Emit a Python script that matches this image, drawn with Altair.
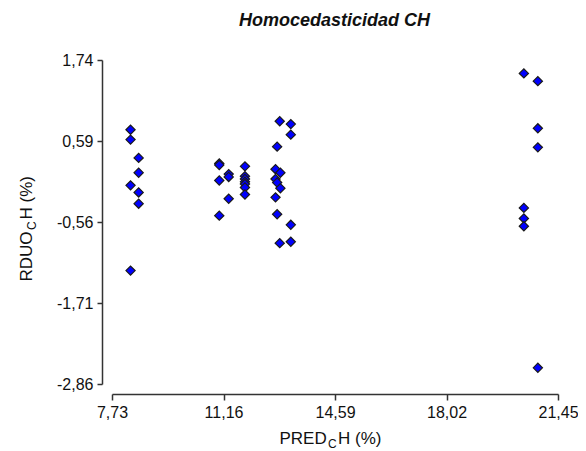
import altair as alt
import pandas as pd

x_pred = [8.30, 8.30, 8.55, 8.55, 8.30, 8.55, 8.55, 8.30,
          11.03, 11.03, 11.32, 11.32, 11.03, 11.32, 11.03,
          11.82, 11.82, 11.82, 11.82, 11.82, 11.82, 11.82,
          12.89, 13.23, 13.23, 12.81, 12.76, 12.91, 12.76, 12.81, 12.91, 12.76, 12.81, 13.23, 12.89, 13.23,
          20.40, 20.83, 20.83, 20.83, 20.40, 20.40, 20.40, 20.83]
y_rduo = [0.75, 0.61, 0.35, 0.14, -0.04, -0.14, -0.30, -1.25,
          0.27, 0.25, 0.12, 0.08, 0.03, -0.23, -0.47,
          0.23, 0.09, 0.05, 0.01, -0.02, -0.07, -0.17,
          0.87, 0.83, 0.68, 0.51, 0.19, 0.14, 0.05, 0.00, -0.08, -0.21, -0.45, -0.60, -0.86, -0.84,
          1.55, 1.44, 0.77, 0.50, -0.36, -0.51, -0.62, -2.63]

x_ticks = [7.73, 11.16, 14.59, 18.02, 21.45]
y_ticks = [-2.86, -1.71, -0.56, 0.59, 1.74]

title_text = "Homocedasticidad CH"
x_title = ["PRED", "C", "H (%)"]
y_title = ["RDUO", "C", "H (%)"]

df = pd.DataFrame({"pred": x_pred, "rduo": y_rduo})
one = pd.DataFrame({"k": [0]})

FONT = "Liberation Sans"
AX = "#333333"
lab_expr = "replace(toString(datum.value), '.', ',')"

points = alt.Chart(df).mark_point(
    shape="diamond", filled=True, size=85, fill="#0000FF",
    stroke="#1a1a1a", strokeWidth=1.2, opacity=1
).encode(
    x=alt.X("pred:Q",
            scale=alt.Scale(domain=[7.73, 21.45], nice=False, zero=False),
            axis=alt.Axis(values=x_ticks, labelExpr=lab_expr, offset=10, tickSize=6,
                          domainColor=AX, tickColor=AX, domainWidth=1.5, tickWidth=1.5,
                          labelFont=FONT, labelFontSize=16, labelColor="#111111",
                          labelPadding=4, grid=False, title=None,
                          labelFlush=False, labelOverlap=False)),
    y=alt.Y("rduo:Q",
            scale=alt.Scale(domain=[-2.86, 1.74], nice=False, zero=False),
            axis=alt.Axis(values=y_ticks, labelExpr=lab_expr, offset=10, tickSize=5,
                          domainColor=AX, tickColor=AX, domainWidth=1.5, tickWidth=1.5,
                          labelFont=FONT, labelFontSize=16, labelColor="#111111",
                          labelPadding=4, grid=False, title=None,
                          labelFlush=False, labelOverlap=False)),
)

def txt(text, x, y, size=17, align="left", angle=0, style=None, weight=None):
    kw = dict(text=text, font=FONT, fontSize=size, align=align, baseline="alphabetic",
              color="#111111")
    if angle:
        kw["angle"] = angle
    if style:
        kw["fontStyle"] = style
    if weight:
        kw["fontWeight"] = weight
    return alt.Chart(one).mark_text(**kw).encode(x=alt.value(x), y=alt.value(y))

layers = [
    points,
    txt(title_text, 222.5, -34.5, size=18, align="center", style="italic", weight="bold"),
    txt(x_title[0], 214.7, 384, align="right"),
    txt(x_title[1], 216, 387.5, size=12),
    txt(x_title[2], 226, 384),
    txt(y_title[0], -80, 171.5, align="right", angle=270),
    txt(y_title[1], -76, 170, size=12, angle=270),
    txt(y_title[2], -80, 159.5, angle=270),
]

chart = alt.layer(*layers).properties(
    width=446, height=324,
    padding={"left": 104, "top": 52, "right": 20, "bottom": 66},
    autosize=alt.AutoSizeParams(type="none"),
).configure_view(stroke=None)

chart.save("out.html", embed_options={"renderer": "svg", "actions": False})
